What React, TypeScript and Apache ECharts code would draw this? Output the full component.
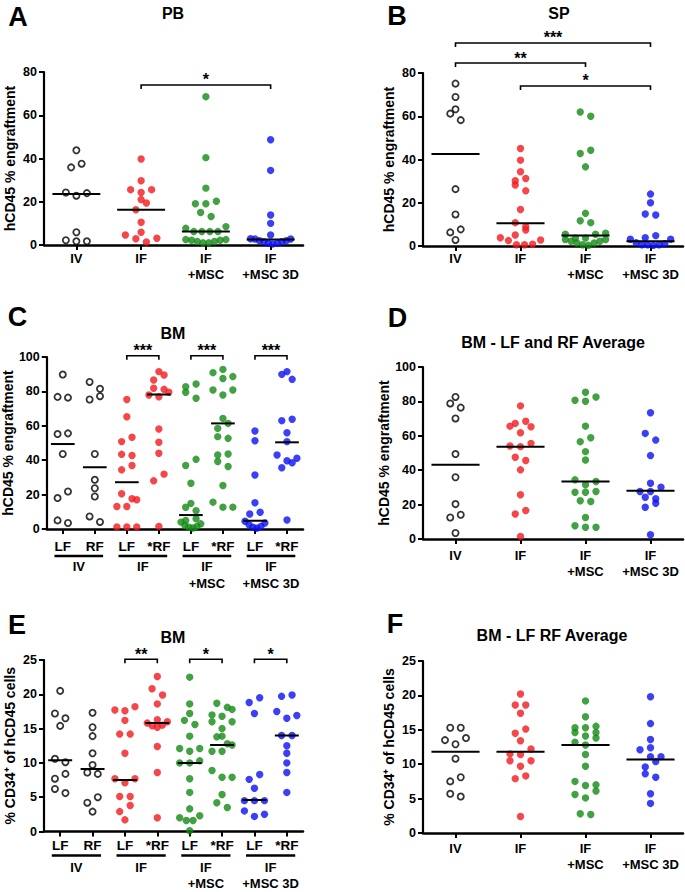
import React, { useEffect, useRef } from "react";
import * as echarts from "echarts";

// ---------- categories ----------
const CATS4 = ["IV", "IF", "IF\n+MSC", "IF\n+MSC 3D"];
const CATS8 = ["LF", "RF", "LF", "*RF", "LF", "*RF", "LF", "*RF"];
const GROUPS = ["IV", "IF", "IF\n+MSC", "IF\n+MSC 3D"];

// ---------- A: PB ----------
const A_IV = [43.8, 37.6, 35.9, 24.3, 24.0, 22.8, 5.9, 2.2, 1.7, 1.7];
const A_IF = [39.8, 29.7, 25.6, 25.6, 24.3, 21.0, 19.4, 16.3, 10.5, 5.9, 4.6, 3.1, 2.9, 1.4];
const A_MSC = [68.6, 40.4, 26.3, 20.2, 19.1, 19.1, 15.0, 13.2, 8.5, 7.7, 6.2, 6.2, 6.2, 6.2, 2.5, 2.2, 1.6, 1.0, 1.0, 1.6, 2.2, 2.5];
const A_3D = [48.7, 34.5, 13.9, 10.0, 4.6, 2.9, 2.8, 2.8, 2.0, 1.5, 0.8, 0.5, 0.8, 1.5, 2.0];
const A_MED = [23.6, 16.3, 6.2, 2.6];

// ---------- B: SP ----------
const B_IV = [75.1, 68.9, 63.2, 61.2, 58.2, 26.3, 14.6, 7.7, 6.3, 2.8];
const B_IF = [45.1, 39.7, 34.3, 31.2, 30.2, 28.2, 25.5, 16.9, 10.8, 8.9, 7.4, 5.1, 3.8, 2.8, 2.5, 0.8, 0.6, 0.6];
const B_MSC = [62.0, 60.0, 44.3, 42.8, 36.6, 15.1, 11.7, 10.8, 5.9, 5.4, 5.4, 3.7, 3.7, 3.0, 3.0, 2.2, 2.2, 1.4, 1.4, 0.6, 0.3];
const B_3D = [24.0, 20.0, 14.8, 14.3, 4.8, 3.8, 3.1, 3.1, 1.5, 1.0, 0.6, 0.6, 0.6, 0.3];
const B_MED = [42.5, 10.5, 4.8, 2.2];

// ---------- C: BM (LF / RF) ----------
const C_IV_LF = [89.8, 76.8, 76.4, 55.6, 55.2, 43.6, 21.8, 18.0, 5.0, 3.5];
const C_IV_RF = [85.5, 81.5, 77.2, 75.3, 43.6, 28.6, 23.7, 18.9, 7.3, 4.1];
const C_IF_LF = [75.3, 65.3, 53.3, 50.8, 43.4, 42.7, 36.9, 34.4, 20.5, 17.6, 17.0, 13.1, 13.1, 1.2, 1.2, 1.2];
const C_IF_RF = [91.5, 89.5, 86.6, 81.8, 81.2, 79.5, 77.9, 76.9, 58.1, 50.4, 44.0, 31.9, 28.0, 1.5];
const C_MSC_LF = [84.3, 82.7, 79.5, 76.0, 40.5, 36.9, 26.6, 14.9, 12.6, 10.6, 6.0, 5.0, 4.0, 3.0, 2.0, 1.5, 1.0, 0.6];
const C_MSC_RF = [92.8, 90.9, 88.6, 87.5, 80.8, 80.8, 77.9, 64.3, 61.4, 58.5, 53.7, 52.7, 43.6, 43.0, 39.2, 36.3, 25.3, 15.6, 12.7, 12.7];
const C_3D_LF = [57.0, 51.3, 31.4, 15.3, 9.7, 8.7, 4.5, 3.5, 2.5, 1.5, 1.0, 0.5];
const C_3D_RF = [91.5, 89.9, 87.0, 63.8, 63.0, 56.0, 50.8, 43.0, 41.1, 39.7, 38.5, 35.6, 5.2];
const C_MED = [49.4, 35.9, 27.2, 78.2, 8.1, 61.4, 4.8, 50.4];

// ---------- D: BM - LF and RF Average ----------
const D_IV = [82.6, 78.8, 76.4, 70.1, 49.4, 35.9, 20.3, 14.1, 12.5, 3.5];
const D_IF = [77.4, 68.5, 67.2, 65.6, 65.3, 61.8, 55.6, 54.1, 53.7, 47.5, 45.6, 40.2, 25.7, 16.6, 14.5, 1.5];
const D_MSC = [85.3, 82.6, 80.7, 80.1, 65.6, 58.9, 56.6, 50.8, 45.9, 34.4, 33.4, 31.5, 27.6, 27.2, 27.2, 22.2, 21.8, 12.5, 7.7, 6.8, 6.8];
const D_3D = [73.4, 61.4, 57.5, 48.5, 32.4, 30.1, 27.6, 27.6, 24.3, 23.4, 20.8, 18.5, 2.5];
const D_MED = [43.1, 53.7, 33.4, 28.0];

// ---------- E: BM CD34+ (LF / RF) ----------
const E_IV_LF = [20.5, 17.2, 16.5, 15.4, 10.6, 10.1, 8.4, 7.7, 6.2, 5.6];
const E_IV_RF = [17.3, 15.2, 13.9, 11.4, 9.7, 8.6, 8.4, 5.0, 4.2, 2.9];
const E_IF_LF = [18.2, 17.7, 17.6, 16.2, 14.2, 14.2, 11.4, 7.7, 7.7, 7.1, 5.1, 5.1, 3.8, 2.9, 1.7];
const E_IF_RF = [22.6, 20.8, 19.9, 18.6, 16.3, 16.0, 15.8, 15.5, 15.4, 15.2, 12.4, 8.6, 2.0];
const E_MSC_LF = [22.5, 18.6, 17.2, 16.2, 15.6, 13.9, 12.1, 12.1, 11.7, 10.3, 10.0, 10.0, 7.7, 5.7, 3.3, 2.3, 2.0, 1.6, 1.6, 0.1];
const E_MSC_RF = [18.7, 18.1, 17.8, 17.0, 16.8, 16.0, 16.0, 15.0, 13.9, 13.8, 12.8, 12.6, 11.7, 11.7, 8.9, 7.9, 7.9, 5.4, 4.2, 3.5];
const E_3D_LF = [19.5, 18.8, 17.2, 8.3, 7.6, 6.3, 4.5, 4.5, 4.5, 3.0, 2.5, 2.2];
const E_3D_RF = [19.9, 19.7, 17.5, 16.9, 16.5, 14.0, 14.0, 12.5, 11.4, 10.0, 8.6, 5.7];
const E_MED = [10.4, 9.1, 7.5, 15.8, 10.0, 12.6, 4.6, 14.0];

// ---------- F: BM - LF RF Average (CD34+) ----------
const F_IV = [15.3, 15.3, 13.8, 13.5, 12.9, 10.8, 8.1, 7.5, 5.7, 5.3];
const F_IF = [20.2, 18.6, 18.6, 17.4, 15.1, 14.5, 13.4, 12.2, 11.5, 11.4, 10.5, 10.5, 9.7, 8.3, 7.9, 2.4];
const F_MSC = [19.2, 16.9, 15.5, 15.3, 15.3, 14.6, 14.6, 14.1, 13.8, 13.2, 12.8, 11.4, 9.7, 7.5, 7.0, 6.9, 6.1, 5.6, 5.1, 2.8, 2.7];
const F_3D = [19.8, 15.9, 13.6, 12.4, 12.1, 11.1, 11.1, 10.4, 9.6, 8.6, 8.1, 5.7, 4.3];
const F_MED = [11.8, 11.8, 12.8, 10.7];

// ---------- significance brackets: [from category, to category (1-based), y value, text] ----------
const A_SIG: [number, number, number, string][] = [[2, 4, 74, "*"]];
const B_SIG: [number, number, number, string][] = [[1, 4, 93.9, "***"], [1, 3, 84.6, "**"], [2, 4, 74, "*"]];
const C_SIG: [number, number, number, string][] = [[3, 4, 100.7, "***"], [5, 6, 100.7, "***"], [7, 8, 100.7, "***"]];
const E_SIG: [number, number, number, string][] = [[3, 4, 25.1, "**"], [5, 6, 25.1, "*"], [7, 8, 25.1, "*"]];

const FONT = '"Liberation Sans", Arial, Helvetica, sans-serif';
const RED = "#f2181c";
const GREEN = "#138a13";
const BLUE = "#0a10f5";
const OPEN = "open";
const STYLE4 = [OPEN, RED, GREEN, BLUE];
const STYLE8 = [OPEN, OPEN, RED, RED, GREEN, GREEN, BLUE, BLUE];

type Panel = {
  letter: string; lx: number; ly: number;
  title: string; tx: number; ty: number;
  grid: { left: number; top: number; width: number; height: number };
  ymax: number; step: number; yName: string;
  cats: string[]; groups: number[][]; med: number[]; styles: string[];
  sig: [number, number, number, string][];
  catMargin: number; catFont: number;
  groupMargin?: number; barOffset?: number;
};

const Y1 = "hCD45 % engraftment";
const Y2 = "% CD34\u207A of hCD45 cells";

const PANELS: Panel[] = [
  { letter: "A", lx: 18, ly: 16.5, title: "PB", tx: 173, ty: 13,
    grid: { left: 44, top: 72, width: 259, height: 173 }, ymax: 80, step: 20, yName: Y1,
    cats: CATS4, groups: [A_IV, A_IF, A_MSC, A_3D], med: A_MED, styles: STYLE4, sig: A_SIG,
    catMargin: 5, catFont: 13 },
  { letter: "B", lx: 397, ly: 16, title: "SP", tx: 559, ty: 13,
    grid: { left: 423, top: 73, width: 260, height: 173 }, ymax: 80, step: 20, yName: Y1,
    cats: CATS4, groups: [B_IV, B_IF, B_MSC, B_3D], med: B_MED, styles: STYLE4, sig: B_SIG,
    catMargin: 4, catFont: 13 },
  { letter: "C", lx: 17.5, ly: 316.5, title: "BM", tx: 173, ty: 333,
    grid: { left: 44, top: 357, width: 259, height: 172 }, ymax: 100, step: 20, yName: Y1,
    cats: CATS8, groups: [C_IV_LF, C_IV_RF, C_IF_LF, C_IF_RF, C_MSC_LF, C_MSC_RF, C_3D_LF, C_3D_RF],
    med: C_MED, styles: STYLE8, sig: C_SIG, catMargin: 9, catFont: 13.5, groupMargin: 29.5, barOffset: 27 },
  { letter: "D", lx: 397.5, ly: 318, title: "BM - LF and RF Average", tx: 553, ty: 342,
    grid: { left: 423, top: 367, width: 260, height: 172 }, ymax: 100, step: 20, yName: Y1,
    cats: CATS4, groups: [D_IV, D_IF, D_MSC, D_3D], med: D_MED, styles: STYLE4, sig: [],
    catMargin: 8, catFont: 13 },
  { letter: "E", lx: 17, ly: 625, title: "BM", tx: 173, ty: 637,
    grid: { left: 44, top: 660, width: 259, height: 173 }, ymax: 25, step: 5, yName: Y2,
    cats: CATS8, groups: [E_IV_LF, E_IV_RF, E_IF_LF, E_IF_RF, E_MSC_LF, E_MSC_RF, E_3D_LF, E_3D_RF],
    med: E_MED, styles: STYLE8, sig: E_SIG, catMargin: 6, catFont: 13.5, groupMargin: 27.5, barOffset: 24 },
  { letter: "F", lx: 395, ly: 624, title: "BM - LF RF Average", tx: 552, ty: 635,
    grid: { left: 423, top: 661, width: 260, height: 172 }, ymax: 25, step: 5, yName: Y2,
    cats: CATS4, groups: [F_IV, F_IF, F_MSC, F_3D], med: F_MED, styles: STYLE4, sig: [],
    catMargin: 7, catFont: 13 },
];

// Prism-like row layout: values closer than ROW_H px share a row and are spread
// symmetrically (lowest value in the middle), compressed to fit the column width.
const ROW_H = 7;
const DX = 10.5;
function swarm(vals: number[], pyu: number, catPx: number): number[] {
  const order = vals.map((_, i) => i).sort((a, b) => vals[a] - vals[b]);
  const rows: number[][] = [];
  let cur: number[] = [];
  let start = 0;
  for (const i of order) {
    if (cur.length && (vals[i] - start) * pyu < ROW_H) cur.push(i);
    else {
      if (cur.length) rows.push(cur);
      cur = [i];
      start = vals[i];
    }
  }
  if (cur.length) rows.push(cur);
  const out = new Array(vals.length).fill(0);
  const maxW = 0.62 * catPx;
  rows.forEach((row, ri) => {
    const k = row.length;
    const s = k > 1 ? Math.min(DX, maxW / (k - 1)) : 0;
    const flip = ri % 2 === 0 ? 1 : -1;
    row.forEach((idx, j) => {
      let slot: number;
      if (k % 2 === 1) slot = j === 0 ? 0 : Math.ceil(j / 2) * (j % 2 === 1 ? 1 : -1);
      else slot = (Math.floor(j / 2) + 0.5) * (j % 2 === 0 ? 1 : -1);
      out[idx] = slot * s * flip;
    });
  });
  return out;
}

const txt = (size: number, weight: string = "bold") => ({
  color: "#000", fontFamily: FONT, fontWeight: weight, fontSize: size,
});

export default function App() {
  const ref = useRef<HTMLDivElement>(null);
  useEffect(() => {
    if (!ref.current) return;
    const chart = echarts.init(ref.current, undefined, { renderer: "svg" });
    const grids: any[] = [];
    const xAxes: any[] = [];
    const yAxes: any[] = [];
    const series: any[] = [];
    const titles: any[] = [];
    const valAxisIdx: number[] = [];

    PANELS.forEach((P, pi) => {
      grids.push({ ...P.grid, containLabel: false });
      const n = P.cats.length;
      xAxes.push({
        type: "category", gridIndex: pi, position: "bottom", data: P.cats, boundaryGap: true,
        axisLine: { onZero: false, lineStyle: { color: "#000", width: 2.5 } },
        axisTick: { show: true, alignWithLabel: true, length: 5, lineStyle: { color: "#000", width: 2 } },
        axisLabel: { interval: 0, margin: P.catMargin, lineHeight: 16.5, ...txt(P.catFont) },
        splitLine: { show: false },
      });
      const vIdx = xAxes.length;
      valAxisIdx.push(vIdx);
      xAxes.push({ type: "value", gridIndex: pi, position: "bottom", min: 0, max: n, show: false });
      if (P.groupMargin !== undefined) {
        xAxes.push({
          type: "category", gridIndex: pi, position: "bottom", data: GROUPS, boundaryGap: true,
          axisLine: { show: false, onZero: false }, axisTick: { show: false }, splitLine: { show: false },
          axisLabel: { interval: 0, margin: P.groupMargin, lineHeight: 16.5, ...txt(13) },
        });
      }
      yAxes.push({
        type: "value", gridIndex: pi, position: "left", min: 0, max: P.ymax, interval: P.step,
        name: P.yName, nameLocation: "middle", nameGap: 27, nameTextStyle: txt(14),
        axisLine: { show: true, onZero: false, lineStyle: { color: "#000", width: 2.2 } },
        axisTick: { show: true, length: 5, lineStyle: { color: "#000", width: 2 } },
        axisLabel: { margin: 7, ...txt(12.5) },
        splitLine: { show: false },
      });
      titles.push({ text: P.title, left: P.tx, top: P.ty, textAlign: "center", textVerticalAlign: "middle", padding: 0, textStyle: txt(16) });
      titles.push({ text: P.letter, left: P.lx, top: P.ly, textAlign: "center", textVerticalAlign: "middle", padding: 0, textStyle: txt(27) });

      const pxCat = P.grid.width / n;
      const pyu = P.grid.height / P.ymax;
      P.groups.forEach((vals, gi) => {
        const offs = swarm(vals, pyu, pxCat);
        const c = gi + 0.5;
        const st = P.styles[gi];
        const open = st === OPEN;
        series.push({
          type: "scatter", xAxisIndex: vIdx, yAxisIndex: pi, silent: true, z: 2,
          data: vals.map((v, k) => [c + offs[k] / pxCat, v]),
          symbol: "circle", symbolSize: open ? 6.2 : 7.4,
          itemStyle: open ? { color: "#fff", borderColor: "#000", borderWidth: 1.8 } : { color: st },
        });
        series.push({
          type: "line", xAxisIndex: vIdx, yAxisIndex: pi, silent: true, z: 5,
          data: [[c - 0.37, P.med[gi]], [c + 0.37, P.med[gi]]],
          symbol: "none", lineStyle: { color: "#000", width: 2 },
        });
      });
    });

    chart.setOption({
      animation: false,
      backgroundColor: "#fff",
      title: titles,
      grid: grids,
      xAxis: xAxes,
      yAxis: yAxes,
      series,
    });

    // annotations positioned through the axes' own scales
    const graphic: any[] = [];
    PANELS.forEach((P, pi) => {
      const finder = { xAxisIndex: valAxisIdx[pi], yAxisIndex: pi };
      P.sig.forEach(([a, b, y, t]) => {
        const p1 = chart.convertToPixel(finder as any, [a - 0.5, y]) as number[];
        const p2 = chart.convertToPixel(finder as any, [b - 0.5, y]) as number[];
        graphic.push({
          type: "polyline", silent: true,
          shape: { points: [[p1[0], p1[1] + 4], [p1[0], p1[1]], [p2[0], p2[1]], [p2[0], p2[1] + 4]] },
          style: { stroke: "#000", lineWidth: 1.6, fill: null },
        });
        graphic.push({
          type: "text", silent: true, x: (p1[0] + p2[0]) / 2, y: p1[1] - 5,
          style: { text: t, align: "center", verticalAlign: "middle", fill: "#000", font: `bold 16px ${FONT}` },
        });
      });
      if (P.barOffset !== undefined) {
        for (let g = 0; g < 4; g++) {
          const q1 = chart.convertToPixel(finder as any, [2 * g + 0.5 - 0.26, 0]) as number[];
          const q2 = chart.convertToPixel(finder as any, [2 * g + 1.5 + 0.26, 0]) as number[];
          graphic.push({
            type: "line", silent: true,
            shape: { x1: q1[0], y1: q1[1] + P.barOffset, x2: q2[0], y2: q2[1] + P.barOffset },
            style: { stroke: "#000", lineWidth: 2.5 },
          });
        }
      }
    });
    chart.setOption({ graphic });

    return () => chart.dispose();
  }, []);
  return (
    <div
      ref={ref}
      style={{ position: "absolute", left: 0, top: 0, width: 685, height: 892, background: "#fff" }}
    />
  );
}
